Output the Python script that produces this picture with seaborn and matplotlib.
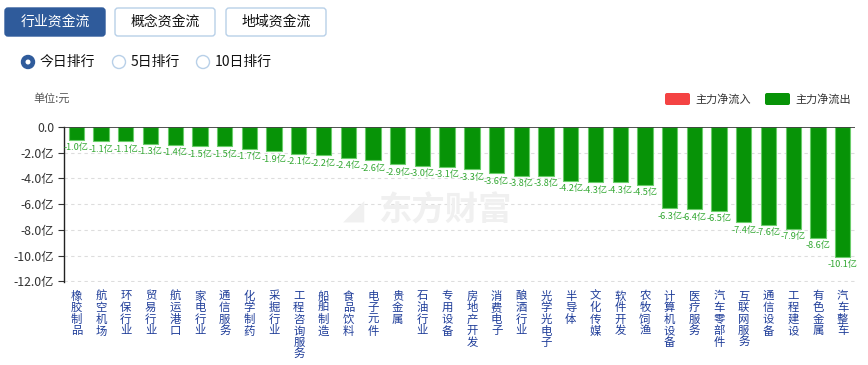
import matplotlib
matplotlib.use('Agg')
import matplotlib.pyplot as plt
import seaborn as sns
import pandas as pd
from matplotlib.patches import FancyBboxPatch, Circle

#%% data
hangye = ['橡胶制品', '航空机场', '环保行业', '贸易行业', '航运港口', '家电行业', '通信服务', '化学制药',
          '采掘行业', '工程咨询服务', '船舶制造', '食品饮料', '电子元件', '贵金属', '石油行业', '专用设备',
          '房地产开发', '消费电子', '酿酒行业', '光学光电子', '半导体', '文化传媒', '软件开发', '农牧饲渔',
          '计算机设备', '医疗服务', '汽车零部件', '互联网服务', '通信设备', '工程建设', '有色金属', '汽车整车']
jingliu = [-1.0, -1.1, -1.1, -1.3, -1.4, -1.5, -1.5, -1.7, -1.9, -2.1, -2.2, -2.4, -2.6, -2.9, -3.0, -3.1,
           -3.3, -3.6, -3.8, -3.8, -4.2, -4.3, -4.3, -4.5, -6.3, -6.4, -6.5, -7.4, -7.6, -7.9, -8.6, -10.1]
yticks = [0, -2, -4, -6, -8, -10, -12]
ylabels = ['0.0', '-2.0亿', '-4.0亿', '-6.0亿', '-8.0亿', '-10.0亿', '-12.0亿']

df = pd.DataFrame({'hangye': hangye, 'jingliu': jingliu})

#%% plot
sns.set_theme(style='white')
plt.rcParams['font.family'] = ['Noto Sans CJK SC', 'DejaVu Sans']

fig = plt.figure(figsize=(8.68, 3.65), dpi=100)
ax = fig.add_axes([64/868, 83/365, 791/868, 155/365])

sns.barplot(data=df, x='hangye', y='jingliu', color='#079307', width=0.62,
            edgecolor='#6acd6a', linewidth=0.8, saturation=1, ax=ax)

ax.set_xlim(-0.5, len(hangye) - 0.5)
ax.set_ylim(-12.05, 0)
ax.set_yticks(yticks)
ax.set_yticklabels(ylabels, fontsize=8.8, color='#333333')
for y in yticks[1:]:
    ax.axhline(y, color='#dddddd', lw=0.8, ls=(0, (3, 3)), zorder=0)
ax.axhline(0, color='#333333', lw=1.2, zorder=3)
ax.set_xlabel('')
ax.set_ylabel('')
ax.set_xticks(range(len(hangye)))
ax.set_xticklabels([''] * len(hangye))
ax.tick_params(axis='x', length=0)
ax.tick_params(axis='y', length=4, width=0.8, color='#333333', left=True, pad=3)
for s in ['top', 'right', 'bottom']:
    ax.spines[s].set_visible(False)
ax.spines['left'].set_color('#222222')
ax.spines['left'].set_linewidth(1.0)

# vertical category names, one char per row
for i, name in enumerate(hangye):
    for k, ch in enumerate(name):
        ax.annotate(ch, (i, 0), xycoords=('data', 'axes fraction'),
                    xytext=(0, -10.2 - 8.4 * k), textcoords='offset points',
                    ha='center', va='center', fontsize=8.2, color='#1f3d99',
                    annotation_clip=False)

for i, v in enumerate(jingliu):
    ax.annotate(f'{v:.1f}亿', (i, v), xytext=(0, -2.5), textcoords='offset points',
                ha='center', va='top', fontsize=6.6, color='#33a833')

#%% page bits (pixel coords)
ov = fig.add_axes([0, 0, 1, 1], facecolor='none')
ov.set_xlim(0, 868)
ov.set_ylim(365, 0)
ov.axis('off')

btns = [('行业资金流', 5, True), ('概念资金流', 115, False), ('地域资金流', 226, False)]
for txt, x0, on in btns:
    ov.add_patch(FancyBboxPatch((x0, 8), 100, 28, boxstyle='round,pad=0,rounding_size=3',
                                fc='#2f5b9b' if on else 'white',
                                ec='#2f5b9b' if on else '#b8d0e8', lw=1))
    ov.text(x0 + 50, 22, txt, ha='center', va='center', fontsize=10,
            color='white' if on else '#111111')

radios = [('今日排行', 28, True), ('5日排行', 119, False), ('10日排行', 203, False)]
for txt, cx, on in radios:
    if on:
        ov.add_patch(Circle((cx, 62), 6.5, fc='#2f5b9b', ec='#2f5b9b'))
        ov.add_patch(Circle((cx, 62), 2.5, fc='white', ec='none'))
    else:
        ov.add_patch(Circle((cx, 62), 6.5, fc='white', ec='#b8d0e8', lw=1))
    ov.text(cx + 12, 62, txt, ha='left', va='center', fontsize=10, color='#111111')

ov.text(33, 98, '单位:元', ha='left', va='center', fontsize=8, color='#555555')

ov.add_patch(FancyBboxPatch((665, 93), 25, 12, boxstyle='round,pad=0,rounding_size=2',
                            fc='#f44343', ec='none'))
ov.text(695, 99, '主力净流入', ha='left', va='center', fontsize=8, color='#333333')
ov.add_patch(FancyBboxPatch((765, 93), 25, 12, boxstyle='round,pad=0,rounding_size=2',
                            fc='#079307', ec='none'))
ov.text(795, 99, '主力净流出', ha='left', va='center', fontsize=8, color='#333333')

# watermark
ov.text(378, 211, '东方财富', ha='left', va='center', fontsize=24, fontweight='bold',
        color='#f0f0f0', zorder=0)
ov.text(354, 211, '◢', ha='center', va='center', fontsize=20, color='#f0f0f0',
        family=['DejaVu Sans'])

fig.savefig('out.png', dpi=100)
